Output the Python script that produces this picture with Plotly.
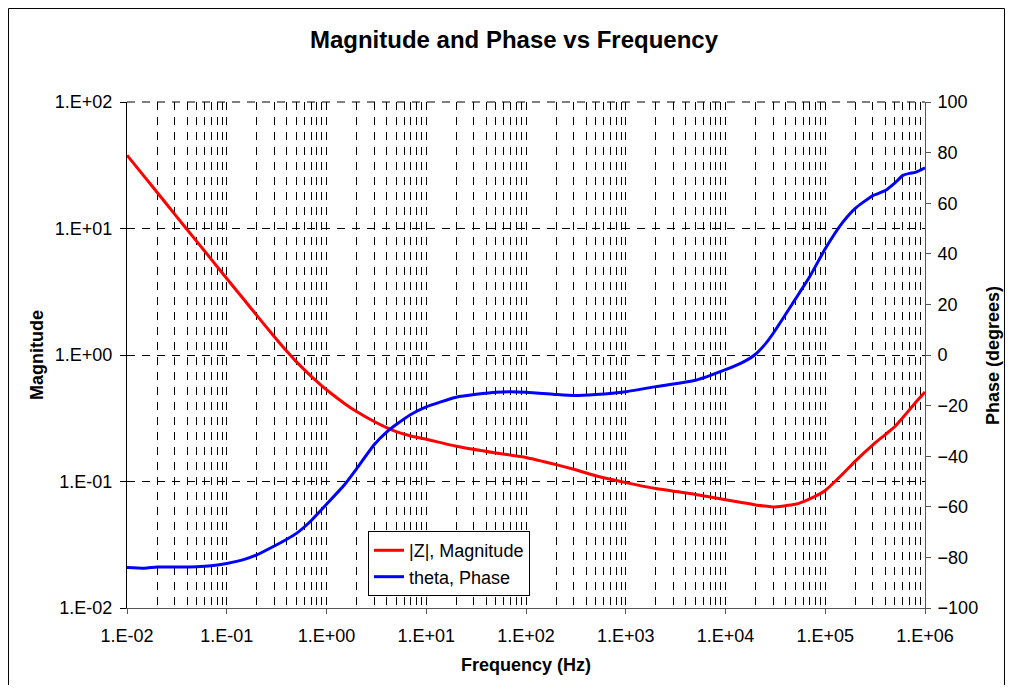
import plotly.graph_objects as go

# ---- data ----
freq_hz = [0.01, 0.015, 0.02, 0.03, 0.05, 0.07, 0.1, 0.15, 0.2, 0.3, 0.4, 0.5, 0.7,
           1, 1.5, 2, 3, 4, 5, 7, 10, 20, 50, 100, 200, 300, 500,
           1e3, 2e3, 5e3, 1e4, 1.5e4, 2e4, 2.5e4, 3e4, 5e4, 7e4, 1e5, 1.5e5, 2e5, 3e5, 4e5, 5e5, 6e5, 7e5, 8e5, 1e6]

magnitude = [38, 25.6, 19.35, 13.0, 7.91, 5.70, 4.03, 2.72, 2.056, 1.393, 1.069, 0.883, 0.682,
             0.531, 0.416, 0.357, 0.298, 0.267, 0.248, 0.229, 0.216, 0.19, 0.168, 0.155, 0.136, 0.125, 0.111,
             0.098, 0.088, 0.079, 0.0716, 0.068, 0.0653, 0.064, 0.063, 0.066, 0.073, 0.085, 0.115, 0.145, 0.195, 0.235, 0.272, 0.32, 0.37, 0.42, 0.51]

phase_deg = [-84.0, -84.3, -83.8, -83.8, -83.7, -83.3, -82.4, -80.8, -79.0, -75.5, -72.8, -70.5, -65.5,
             -59.0, -51.5, -45.0, -35.5, -30.5, -27.5, -23.5, -20.5, -16.7, -14.7, -14.7, -15.6, -16.0, -15.6,
             -14.5, -12.5, -10.0, -5.8, -2.8, 0.3, 4.3, 8.5, 22.0, 31.0, 42.0, 52.5, 58.0, 63.0, 65.0, 68.0, 71.0, 71.8, 72.2, 74.0]

x_tickvals = [1e-2, 1e-1, 1e0, 1e1, 1e2, 1e3, 1e4, 1e5, 1e6]
x_ticktext = ["1.E-02", "1.E-01", "1.E+00", "1.E+01", "1.E+02", "1.E+03", "1.E+04", "1.E+05", "1.E+06"]
y_tickvals = [1e-2, 1e-1, 1e0, 1e1, 1e2]
y_ticktext = ["1.E-02", "1.E-01", "1.E+00", "1.E+01", "1.E+02"]
y2_tickvals = [-100, -80, -60, -40, -20, 0, 20, 40, 60, 80, 100]

FONT = "Liberation Sans, Arial, sans-serif"
GRID_DASH = "8px,7px"

fig = go.Figure()
fig.add_trace(go.Scatter(x=freq_hz, y=magnitude, name="|Z|, Magnitude", mode="lines",
                         line=dict(color="#FF0000", width=3, shape="spline", smoothing=0.5),
                         yaxis="y"))
fig.add_trace(go.Scatter(x=freq_hz, y=phase_deg, name="theta, Phase", mode="lines",
                         line=dict(color="#0000FF", width=3, shape="spline", smoothing=0.5),
                         yaxis="y2"))

fig.update_layout(
    width=997, height=677,
    margin=dict(l=119, r=80, t=94, b=77),
    paper_bgcolor="white", plot_bgcolor="white",
    font=dict(family=FONT, color="black", size=18),
    title=dict(text="<b>Magnitude and Phase vs Frequency</b>", x=0.5075, xanchor="center",
               y=0.9527, yanchor="middle", font=dict(size=24, family=FONT)),
    xaxis=dict(type="log", range=[-2, 6], tickmode="array", tickvals=x_tickvals, ticktext=x_ticktext,
               showline=True, linecolor="#555555", linewidth=1, ticks="outside", ticklen=5,
               tickcolor="#555555", ticklabelstandoff=6,
               showgrid=True, gridcolor="black", gridwidth=1, griddash=GRID_DASH,
               minor=dict(dtick="D1", showgrid=True, gridcolor="black", gridwidth=1,
                          griddash=GRID_DASH, ticks=""),
               zeroline=False, tickfont=dict(size=18)),
    yaxis=dict(type="log", range=[-2, 2], tickmode="array", tickvals=y_tickvals, ticktext=y_ticktext,
               showline=True, linecolor="black", linewidth=1, ticks="outside", ticklen=6,
               tickcolor="black", ticklabelstandoff=4,
               showgrid=True, gridcolor="black", gridwidth=1, griddash=GRID_DASH,
               zeroline=False, tickfont=dict(size=18)),
    yaxis2=dict(overlaying="y", side="right", anchor="x", range=[-100, 100], tickmode="array",
                tickvals=y2_tickvals, showline=True, linecolor="#555555", linewidth=1,
                ticks="outside", ticklen=5, tickcolor="#555555", ticklabelstandoff=3,
                showgrid=False, zeroline=False, tickfont=dict(size=18)),
    legend=dict(x=0.302, y=0.152, xanchor="left", yanchor="top", bgcolor="white",
                bordercolor="black", borderwidth=1, font=dict(size=18), tracegroupgap=0),
    showlegend=True,
)

fig.add_annotation(text="<b>Magnitude</b>", xref="paper", yref="paper", x=-0.1128, y=0.5,
                   showarrow=False, textangle=-90, font=dict(size=18, family=FONT),
                   xanchor="center", yanchor="middle")
fig.add_annotation(text="<b>Phase (degrees)</b>", xref="paper", yref="paper", x=1.0852, y=0.5,
                   showarrow=False, textangle=-90, font=dict(size=18, family=FONT),
                   xanchor="center", yanchor="middle")
fig.add_annotation(text="<b>Frequency (Hz)</b>", xref="paper", yref="paper", x=0.5, y=-0.1126,
                   showarrow=False, font=dict(size=18, family=FONT),
                   xanchor="center", yanchor="middle")

# dashed top gridline (the 1.E+02 line at the top of the plot area)
fig.add_shape(type="line", xref="paper", yref="paper", x0=0, x1=1, y0=1, y1=1,
              line=dict(color="black", width=1, dash=GRID_DASH), layer="below")

# outer chart frame (left, top, right edges)
FL, FR, FT, FB = -0.1485, 1.0996, 1.1848, -0.16
for x0, y0, x1, y1 in [(FL, FB, FL, FT), (FL, FT, FR, FT), (FR, FT, FR, FB)]:
    fig.add_shape(type="line", xref="paper", yref="paper", x0=x0, y0=y0, x1=x1, y1=y1,
                  line=dict(color="black", width=1), layer="below")

fig.write_html("out.html")
